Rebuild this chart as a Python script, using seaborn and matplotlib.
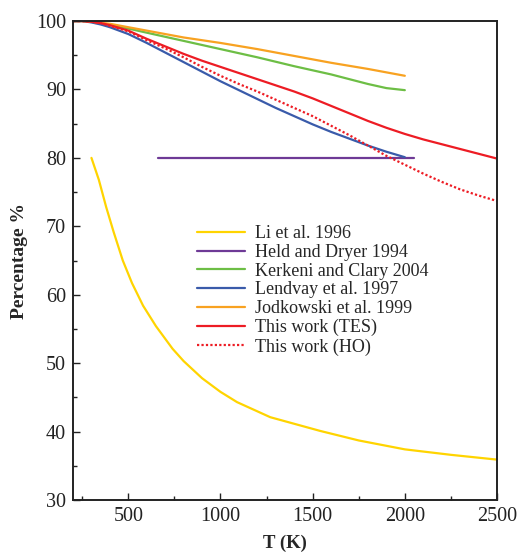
import matplotlib
matplotlib.use("Agg")
import matplotlib.pyplot as plt
import seaborn as sns
from matplotlib.ticker import MultipleLocator

# Li et al. 1996
li_T = [300, 340, 380, 420, 470, 520, 580, 650, 740, 800, 900, 1000, 1090, 1270, 1540, 1750, 2000, 2250, 2500]
li_p = [80.0, 76.8, 72.8, 69.2, 65.0, 61.7, 58.4, 55.4, 52.1, 50.3, 47.8, 45.8, 44.3, 42.1, 40.1, 38.7, 37.4, 36.6, 35.9]

# Held and Dryer 1994
held_T = [660, 1000, 1500, 2050]
held_p = [80.0, 80.0, 80.0, 80.0]

# Kerkeni and Clary 2004
kerk_T = [200, 250, 300, 400, 500, 600, 700, 800, 900, 1000, 1200, 1400, 1600, 1800, 1900, 2000]
kerk_p = [100.0, 100.0, 99.9, 99.5, 98.9, 98.3, 97.7, 97.1, 96.5, 95.9, 94.7, 93.4, 92.2, 90.8, 90.2, 89.9]

# Lendvay et al. 1997
lend_T = [200, 250, 300, 350, 400, 500, 600, 700, 800, 900, 1000, 1100, 1200, 1300, 1400, 1500, 1600,
          1700, 1800, 1900, 2000]
lend_p = [100.0, 100.0, 99.8, 99.5, 99.1, 98.1, 96.8, 95.4, 94.0, 92.6, 91.2, 89.9, 88.6, 87.3, 86.1, 84.9, 83.8,
          82.8, 81.8, 80.9, 80.1]

# Jodkowski et al. 1999
jodk_T = [200, 250, 300, 400, 500, 600, 700, 800, 900, 1000, 1200, 1400, 1600, 1800, 2000]
jodk_p = [100.0, 100.0, 99.9, 99.6, 99.1, 98.6, 98.1, 97.6, 97.2, 96.8, 95.9, 94.9, 93.9, 93.0, 92.0]

# This work (TES)
tes_T = [200, 250, 300, 350, 400, 500, 600, 700, 800, 900, 1000, 1100, 1200, 1300, 1400, 1500, 1600, 1700,
         1800, 1900, 2000, 2100, 2200, 2300, 2400, 2500]
tes_p = [100.0, 100.0, 99.9, 99.7, 99.4, 98.6, 97.4, 96.3, 95.2, 94.2, 93.3, 92.4, 91.5, 90.6, 89.7, 88.7, 87.6, 86.5,
         85.4, 84.4, 83.5, 82.7, 82.0, 81.3, 80.6, 79.9]

# This work (HO)
ho_T = tes_T
ho_p = [100.0, 100.0, 99.9, 99.7, 99.3, 98.5, 97.2, 96.0, 94.7, 93.3, 92.0, 90.8, 89.7, 88.5, 87.3, 86.1, 84.7, 83.3,
        81.8, 80.3, 79.0, 77.7, 76.5, 75.4, 74.5, 73.7]

series = [
    ("Li et al. 1996", li_T, li_p, "#FFD400", "-"),
    ("Held and Dryer 1994", held_T, held_p, "#6E3A96", "-"),
    ("Kerkeni and Clary 2004", kerk_T, kerk_p, "#6DBE45", "-"),
    ("Lendvay et al. 1997", lend_T, lend_p, "#3A5BAA", "-"),
    ("Jodkowski et al. 1999", jodk_T, jodk_p, "#F8A221", "-"),
    ("This work (TES)", tes_T, tes_p, "#ED1C24", "-"),
    ("This work (HO)", ho_T, ho_p, "#ED1C24", (0, (1, 1))),
]

sns.set_style("ticks")
plt.rcParams['font.family'] = ['Liberation Serif', 'DejaVu Serif']

fig = plt.figure(figsize=(5.19, 5.54), dpi=100)
ax = fig.add_axes([0.1407, 0.0975, 0.8169, 0.8645])

for label, T, p, color, ls in series:
    sns.lineplot(x=T, y=p, ax=ax, color=color, linestyle=ls, linewidth=1.6, label=label)

ax.set_xlim(200, 2500)
ax.set_ylim(30, 100)
ax.xaxis.set_major_locator(MultipleLocator(500))
ax.xaxis.set_minor_locator(MultipleLocator(250))
ax.yaxis.set_major_locator(MultipleLocator(10))
ax.yaxis.set_minor_locator(MultipleLocator(5))
ax.tick_params(which='both', direction='in', top=False, right=False, labelsize=14.5, colors='#222222')
ax.tick_params(which='major', length=5, width=1, pad=5)
ax.tick_params(which='minor', length=3, width=1)
for s in ax.spines.values():
    s.set_linewidth(1.4)
    s.set_color('#222222')

ax.set_xlabel("T (K)", fontsize=13.5, fontweight='bold', labelpad=6)
ax.set_ylabel("Percentage %", fontsize=14, fontweight='bold', labelpad=6)

ax.legend(loc='upper left', bbox_to_anchor=(0.292, 0.574), frameon=False, fontsize=13,
          labelspacing=0.1, handlelength=2.65, handletextpad=0.55, borderpad=0, borderaxespad=0)

fig.savefig("out.png", dpi=100)
